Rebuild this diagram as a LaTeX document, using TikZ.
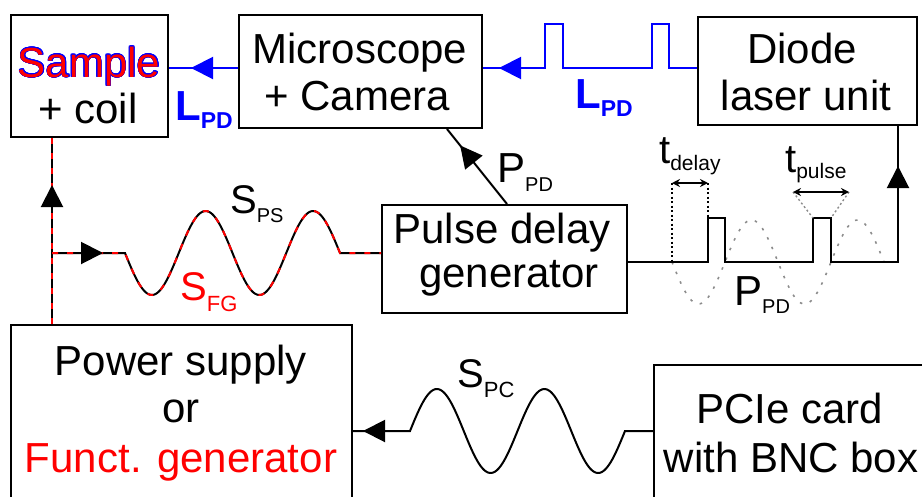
\documentclass[tikz,border=0pt]{standalone}
\usepackage{fontspec}
\setmainfont{Liberation Sans}
\usepackage{contour}
\contourlength{0.6pt}
\contournumber{16}
\usetikzlibrary{arrows.meta,decorations.markings}
\newcommand{\fsz}[1]{\fontsize{#1}{#1}\selectfont}
\definecolor{dotgray}{RGB}{140,140,140}
\tikzset{
  box/.style={draw=black, line width=2pt, inner sep=0pt},
  txt/.style={font=\fsz{42}, inner sep=0pt, anchor=base},
  lbl/.style={inner sep=0pt, anchor=base west},
  wire/.style={line width=2pt, color=black},
  bwire/.style={line width=2pt, color=blue},
  rbwire/.style={line width=2pt, color=black, postaction={draw=red, dash pattern=on 6pt off 9pt}},
  midarrow/.style={postaction={decorate, decoration={markings, mark=at position #1 with {\arrow{Triangle[length=22pt,width=22pt]}}}}},
  guide/.style={line width=1.4pt, dash pattern=on 2pt off 2.5pt},
  gguide/.style={line width=1.4pt, dotgray, dash pattern=on 2pt off 2.5pt},
  dblarrow/.style={line width=1.6pt, {Stealth[length=8pt,width=8pt]}-{Stealth[length=8pt,width=8pt]}},
}
\begin{document}
\begin{tikzpicture}[x=1pt,y=-1pt]
\useasboundingbox (0,0) rectangle (922,496);
\clip (0,0) rectangle (922,496);

% boxes
\node[box, minimum width=157pt, minimum height=122pt] (sample) at (89.5,76) {};
\node[box, minimum width=243pt, minimum height=113pt] (micro) at (360.5,71.5) {};
\node[box, minimum width=219pt, minimum height=108pt] (diode) at (807.5,71) {};
\node[box, minimum width=245pt, minimum height=108pt] (pulse) at (504.5,259) {};
\node[box, minimum width=341pt, minimum height=200pt] (power) at (181.5,425) {};
\node[box, minimum width=290pt, minimum height=160pt] (pcie) at (799,445) {};

% box texts
\node[txt] (sample1) at (89,77) {\color{red}\contour{blue}{Sample}};
\node[txt] (sample2) at (88,123) {+ coil};
\node[txt] (micro1) at (360,63) {Microscope};
\node[txt] (micro2) at (357,110) {+ Camera};
\node[txt] (diode1) at (802,63) {Diode};
\node[txt] (diode2) at (806,110) {laser unit};
\node[txt] (pulse1) at (502,243) {Pulse delay};
\node[txt] (pulse2) at (509,287) {generator};
\node[txt] (power1) at (181,375) {Power supply};
\node[txt] (power2) at (181,422) {or};
\node[txt, text=red] (power3) at (181,472) {Funct. generator};
\node[txt] (pcie1) at (790,423) {PCIe card};
\node[txt] (pcie2) at (791,472) {with BNC box};

% laser path
\draw[bwire, midarrow=-22pt] (micro.west |- 0,68) -- (sample.east |- 0,68);
\draw[bwire, midarrow=-16pt] (diode.west |- 0,68) -- (669,68) -- (669,24) -- (652,24) -- (652,68)
  -- (563,68) -- (563,24) -- (545,24) -- (545,68) -- (micro.east |- 0,68);

% coil current
\draw[rbwire, midarrow=-47pt] (52,0 |- power.north) -- (52,0 |- sample.south);
\coordinate (branch) at (52,253);
\draw[rbwire, midarrow=51pt] (branch) -- (125,253)
  -- plot[domain=125:340, samples=120] (\x, {253+42*sin(3.348837*(\x-125))})
  -- (pulse.west |- 0,253);

% dotted reference sine
\draw[dotgray, line width=1.6pt, dash pattern=on 2.5pt off 8pt]
  plot[domain=672:884, samples=100] (\x, {262+42*sin(3.396226*(\x-672))});

% pulse train to diode
\draw[wire, midarrow=-40pt] (pulse.east |- 0,262) -- (708,262) -- (708,218) -- (725,218) -- (725,262)
  -- (813,262) -- (813,218) -- (831,218) -- (831,262) -- (898,262) -- (898,0 |- diode.south);

% trigger to camera
\draw[wire, midarrow=-21pt] (507,0 |- pulse.north) -- (447,0 |- micro.south);

% PCIe to power supply
\draw[wire, midarrow=-10pt] (pcie.west |- 0,431) -- (625,431)
  -- plot[domain=625:410, samples=120] (\x, {431-42*sin(3.348837*(\x-410))})
  -- (power.east |- 0,431);

% timing guides
\coordinate (tdL) at (672,183); \coordinate (tdR) at (708,183);
\coordinate (tdLb) at (672,262); \coordinate (tdRb) at (708,218);
\draw[guide] (tdL) -- (tdLb);
\draw[guide] (tdR) -- (tdRb);
\draw[dblarrow] (tdL) -- (tdR);
\coordinate (tpL) at (793,192); \coordinate (tpR) at (849,192);
\coordinate (tpLb) at (813,218); \coordinate (tpRb) at (831,218);
\draw[gguide] (tpL) -- (tpLb);
\draw[gguide] (tpR) -- (tpRb);
\draw[dblarrow] (tpL) -- (tpR);

% labels
\node[lbl, text=blue, font=\bfseries] (lpdA) at (175,120) {\fsz{42}L\raisebox{-8pt}{\fsz{23}PD}};
\node[lbl, text=blue, font=\bfseries] (lpdB) at (575,108) {\fsz{42}L\raisebox{-8pt}{\fsz{23}PD}};
\node[lbl] (sps) at (230,213) {\fsz{40}S\raisebox{-9pt}{\fsz{20}PS}};
\node[lbl, text=red] (sfg) at (180,300) {\fsz{40}S\raisebox{-11pt}{\fsz{22}FG}};
\node[lbl] (ppdA) at (497,182) {\fsz{42}P\raisebox{-9pt}{\fsz{20}PD}};
\node[lbl] (ppdB) at (734,305) {\fsz{42}P\raisebox{-8pt}{\fsz{20}PD}};
\node[lbl] (spc) at (457,387) {\fsz{40}S\raisebox{-10pt}{\fsz{22}PC}};
\node[lbl] (tdel) at (659,163) {\fsz{40}t\raisebox{-7pt}{\fsz{21}delay}};
\node[lbl] (tpul) at (785,172) {\fsz{40}t\raisebox{-6pt}{\fsz{21}pulse}};
\end{tikzpicture}
\end{document}
